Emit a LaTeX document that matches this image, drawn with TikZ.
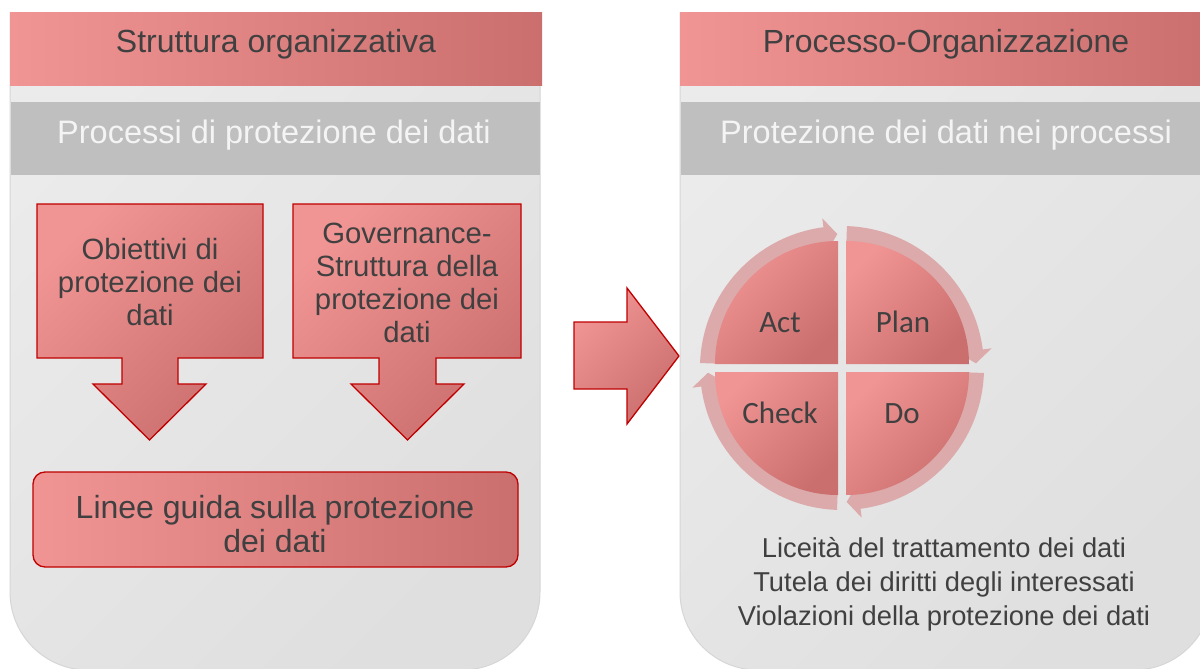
\documentclass[tikz,border=0pt]{standalone}
\usepackage{fontspec}
\setmainfont{Liberation Sans}
\newfontfamily\calfont{Carlito}
\usetikzlibrary{calc}
\definecolor{pinkL}{HTML}{F09494}
\definecolor{pinkD}{HTML}{CA6E6E}
\definecolor{darkred}{HTML}{C00000}
\definecolor{txt}{HTML}{404040}
\definecolor{bandgray}{HTML}{BFBFBF}
\definecolor{panelL}{HTML}{EBEBEB}
\definecolor{panelD}{HTML}{DFDFDF}
\definecolor{edgec}{HTML}{D6D6D6}
\definecolor{ringc}{HTML}{DCAAAA}
\definecolor{gtxtc}{HTML}{F4F4F4}
\begin{document}
\begin{tikzpicture}[x=1pt,y=-1pt,
  panelbody/.style={draw=edgec, line width=1pt, top color=panelL, bottom color=panelD, shading angle=45},
  tband/.style={left color=pinkL, right color=pinkD},
  gband/.style={fill=bandgray},
  ttext/.style={text=txt, font=\fontsize{32}{36}\selectfont, anchor=base, inner sep=0pt},
  gtext/.style={text=gtxtc, font=\fontsize{32.5}{36}\selectfont, anchor=base, inner sep=0pt},
  bigarrow/.style={draw=darkred, line width=1.3pt, top color=pinkL, bottom color=pinkD, shading angle=45},
  arrtext/.style={text=txt, font=\fontsize{29.3}{32.7}\selectfont, align=center, anchor=base, inner sep=0pt},
  guidebox/.style={draw=darkred, line width=1.3pt, left color=pinkL, right color=pinkD, rounded corners=12pt},
  guidetext/.style={text=txt, font=\fontsize{32}{34}\selectfont, align=center, anchor=base, inner sep=0pt},
  listtext/.style={text=txt, font=\fontsize{27.3}{34}\selectfont, align=center, anchor=base, inner sep=0pt},
  quad/.style={top color=pinkL, bottom color=pinkD, shading angle=45},
  ringarrow/.style={fill=ringc},
  pdcatext/.style={text=txt, font=\calfont\fontsize{31}{36}\selectfont, anchor=base, inner sep=0pt}
]
\useasboundingbox (0,0) rectangle (1200,669);
\fill[white] (0,0) rectangle (1200,669);

% ---------- left panel ----------
\shade[panelbody] (10,13) -- (540,13) -- (540,592) arc[start angle=0,end angle=90,radius=78] -- (88,670) arc[start angle=90,end angle=180,radius=78] -- cycle;
\shade[tband] (10,13) rectangle (542,86);
\fill[gband] (11,102) rectangle (540,175);
\node[ttext] (t1) at (276,53) {Struttura organizzativa};
\node[gtext] (g1) at (274,143) {Processi di protezione dei dati};

% down arrow 1
\shade[bigarrow] (37,204) -- (263,204) -- (263,358) -- (178,358) -- (178,384) -- (206,384) -- (149.5,440) -- (93,384) -- (122,384) -- (122,358) -- (37,358) -- cycle;
\node[arrtext] (a1) at (150,325) {Obiettivi di\\protezione dei\\dati};
% down arrow 2
\shade[bigarrow] (293,204) -- (521,204) -- (521,358) -- (436,358) -- (436,384) -- (464,384) -- (407.5,440) -- (351,384) -- (379,384) -- (379,358) -- (293,358) -- cycle;
\node[arrtext] (a2) at (407,342) {Governance-\\Struttura della\\protezione dei\\dati};

% guidelines box
\shade[guidebox] (33,472) rectangle (518,567);
\begin{scope}
\clip (33,472) rectangle (518,551);
\node[guidetext] (gl) at (275,552) {Linee guida sulla protezione\\dei dati};
\end{scope}

% ---------- middle arrow ----------
\shade[bigarrow] (574,322) -- (627,322) -- (627,288) -- (679,356) -- (627,424) -- (627,389) -- (574,389) -- cycle;

% ---------- right panel ----------
\shade[panelbody] (680,13) -- (1212,13) -- (1212,592) arc[start angle=0,end angle=90,radius=78] -- (758,670) arc[start angle=90,end angle=180,radius=78] -- cycle;
\shade[tband] (680,13) rectangle (1212,86);
\fill[gband] (681,102) rectangle (1212,175);
\node[ttext] (t2) at (946,53) {Processo-Organizzazione};
\node[gtext] (g2) at (946,143) {Protezione dei dati nei processi};

% PDCA cycle
\coordinate (C) at (842,368);
\foreach \a/\b in {182/268, 272/358, 2/88, 92/178}{
  \pgfmathsetmacro{\h}{\b-5.5}
  \fill[ringarrow] ($(C)+(\a:142)$) arc[start angle=\a, end angle=\h, radius=142]
     -- ($(C)+(\h:151)$) -- ($(C)+(\b:134)$) -- ($(C)+(\h:117)$) -- ($(C)+(\h:125)$)
     arc[start angle=\h, end angle=\a, radius=125] -- cycle;
}
\shade[quad] (838,364) -- (715,364) arc[start angle=180,end angle=270,radius=123] -- cycle;
\shade[quad] (846,364) -- (846,241) arc[start angle=270,end angle=360,radius=123] -- cycle;
\shade[quad] (846,372) -- (969,372) arc[start angle=0,end angle=90,radius=123] -- cycle;
\shade[quad] (838,372) -- (838,495) arc[start angle=90,end angle=180,radius=123] -- cycle;
\node[pdcatext] (act) at (780,332) {Act};
\node[pdcatext] (plan) at (903,332) {Plan};
\node[pdcatext] (check) at (780,423) {Check};
\node[pdcatext] (do) at (902,423) {Do};

\node[listtext] (lst) at (944,625) {Liceità del trattamento dei dati\\Tutela dei diritti degli interessati\\Violazioni della protezione dei dati};
\end{tikzpicture}
\end{document}
